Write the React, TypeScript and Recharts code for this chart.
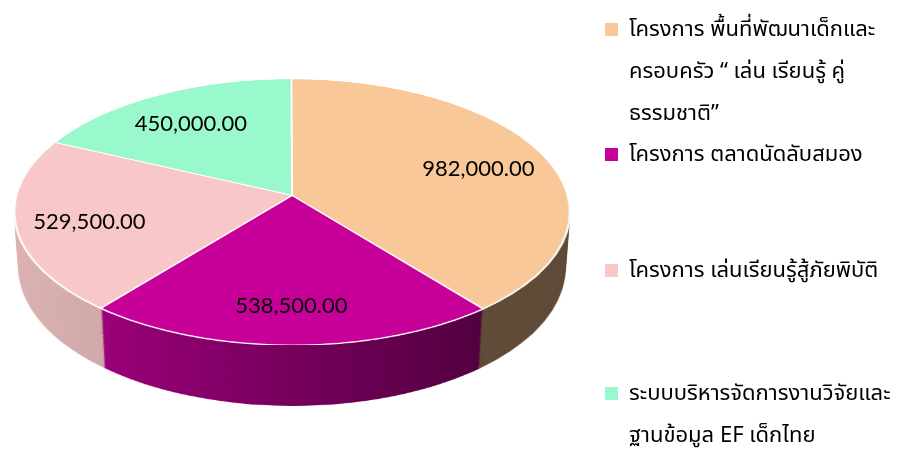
import React from 'react';
import { PieChart, Pie, Cell } from 'recharts';

// project budgets (baht)
const projects = [
  'โครงการ พื้นที่พัฒนาเด็กและครอบครัว  “ เล่น เรียนรู้ คู่ธรรมชาติ”',
  'โครงการ ตลาดนัดลับสมอง',
  'โครงการ เล่นเรียนรู้สู้ภัยพิบัติ',
  'ระบบบริหารจัดการงานวิจัยและฐานข้อมูล EF เด็กไทย',
];
const budgets = [982000, 538500, 529500, 450000];
const topColors = ['#F8C898', '#C8009A', '#F8C8C8', '#99F8CC'];
const sideFrom = ['#6C5540', '#B2008C', '#DDB3B3', '#6FB293'];
const sideTo = ['#5E4936', '#3C002E', '#A07E7E', '#3E6E58'];
const legendLines = [
  ['โครงการ พื้นที่พัฒนาเด็กและ', 'ครอบครัว  “ เล่น เรียนรู้ คู่', 'ธรรมชาติ”'],
  ['โครงการ ตลาดนัดลับสมอง'],
  ['โครงการ เล่นเรียนรู้สู้ภัยพิบัติ'],
  ['ระบบบริหารจัดการงานวิจัยและ', 'ฐานข้อมูล EF เด็กไทย'],
];
const legendTops = [30, 155, 271, 394];

const data = projects.map((name, i) => ({ name, value: budgets[i] }));

const W = 902;
const H = 451;
// pie centre on screen, disc radius and 3d tilt
const CX = 287;
const CY = 193;
const R = 275;
const BOX = 560;
const PERSP = 1943;
const TILT = 61.67;
const DEPTH = 64;
const layers: number[] = [];
for (let d = DEPTH; d > 0; d -= 2) layers.push(d);

const RAD = Math.PI / 180;
const COS = Math.cos(TILT * RAD);
const SIN = Math.sin(TILT * RAD);
const fmt = (v: number) => v.toLocaleString('en-US', { minimumFractionDigits: 2, maximumFractionDigits: 2 });

// project a point of the disc plane onto the screen (same maths as the css transform)
const project = (px: number, py: number) => {
  const y1 = py * COS;
  const z1 = py * SIN;
  const k = PERSP / (PERSP - z1);
  return { x: px * k, y: y1 * k };
};

const renderLabel = (props: any) => {
  const { cx, cy, midAngle, outerRadius, value, index } = props;
  const r = outerRadius * 0.74;
  const p = project(r * Math.cos(-midAngle * RAD), r * Math.sin(-midAngle * RAD));
  return (
    <text
      key={`lbl-${index}`}
      x={cx + p.x}
      y={cy + p.y}
      textAnchor="middle"
      dominantBaseline="central"
      fill="#000"
      style={{ fontFamily: 'Lato, sans-serif', fontSize: 22 }}
    >
      {fmt(value)}
    </text>
  );
};

const layerStyle = (d: number): React.CSSProperties => ({
  position: 'absolute',
  left: CX - BOX / 2,
  top: CY - BOX / 2,
  width: BOX,
  height: BOX,
  transformOrigin: 'center center',
  transform: `perspective(${PERSP}px) rotateX(${TILT}deg) translateZ(${-d}px)`,
});

const Disc = ({ side }: { side: boolean }) => (
  <PieChart width={BOX} height={BOX}>
    <Pie
      data={data}
      dataKey="value"
      nameKey="name"
      cx={BOX / 2}
      cy={BOX / 2}
      outerRadius={R}
      startAngle={90}
      endAngle={-270}
      isAnimationActive={false}
    >
      {data.map((_, i) =>
        side ? (
          <Cell key={i} fill={`url(#side-${i})`} stroke="none" />
        ) : (
          <Cell key={i} fill={topColors[i]} stroke="#fff" strokeWidth={2} />
        ),
      )}
    </Pie>
  </PieChart>
);

export default function App() {
  return (
    <div style={{ position: 'relative', width: W, height: H, background: '#fff', overflow: 'hidden' }}>
      <style>{'body { margin: 0; }'}</style>
      <svg width={0} height={0} style={{ position: 'absolute' }}>
        <defs>
          {topColors.map((_, i) => (
            <linearGradient key={i} id={`side-${i}`} gradientUnits="userSpaceOnUse" x1={BOX / 2 - R} y1={0} x2={BOX / 2 + R} y2={0}>
              <stop offset="0" stopColor={sideFrom[i]} />
              <stop offset="1" stopColor={sideTo[i]} />
            </linearGradient>
          ))}
        </defs>
      </svg>
      {layers.map((d) => (
        <div key={d} style={layerStyle(d)}>
          <Disc side />
        </div>
      ))}
      <div style={layerStyle(0)}>
        <Disc side={false} />
      </div>
      <div style={{ position: 'absolute', left: 0, top: 0 }}>
        <PieChart width={W} height={H}>
          <Pie
            data={data}
            dataKey="value"
            nameKey="name"
            cx={CX}
            cy={CY}
            outerRadius={R}
            startAngle={90}
            endAngle={-270}
            fill="none"
            stroke="none"
            label={renderLabel}
            labelLine={false}
            isAnimationActive={false}
          >
            {data.map((_, i) => (
              <Cell key={i} fill="none" stroke="none" />
            ))}
          </Pie>
        </PieChart>
      </div>
      {legendLines.map((lines, i) => (
        <div
          key={i}
          style={{
            position: 'absolute',
            left: 605,
            top: legendTops[i] - 12,
            fontFamily: "'Noto Sans Thai', Tahoma, 'Noto Sans', sans-serif",
            fontSize: 22,
            lineHeight: '24px',
            color: '#000',
          }}
        >
          <span
            style={{
              position: 'absolute',
              left: 0,
              top: 5,
              width: 13,
              height: 13,
              background: topColors[i],
            }}
          />
          {lines.map((t, j) => (
            <div key={j} style={{ paddingLeft: 24, whiteSpace: 'nowrap', marginTop: j > 0 ? 18 : 0 }}>
              {t}
            </div>
          ))}
        </div>
      ))}
    </div>
  );
}
